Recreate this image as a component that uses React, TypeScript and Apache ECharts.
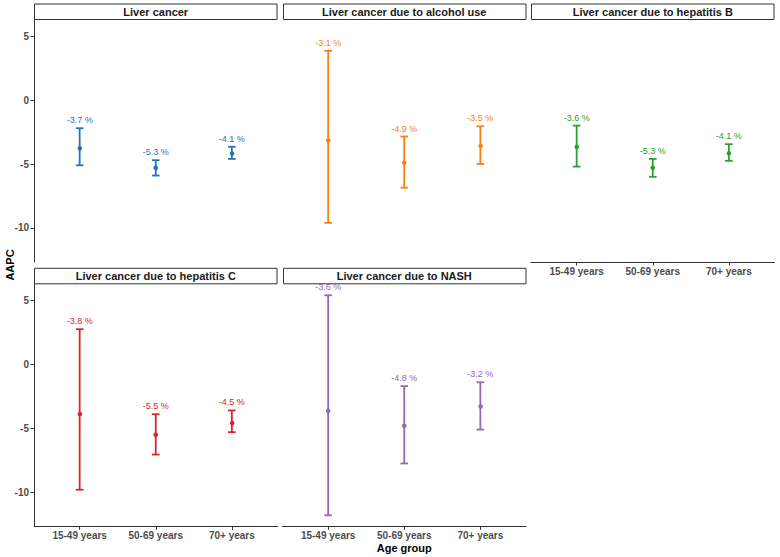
import React, { useEffect, useRef } from 'react';
import * as echarts from 'echarts';

const ageGroups = ['15-49 years', '50-69 years', '70+ years'];
const causes = [
  'Liver cancer',
  'Liver cancer due to alcohol use',
  'Liver cancer due to hepatitis B',
  'Liver cancer due to hepatitis C',
  'Liver cancer due to NASH',
];
const colors = ['#1F77B4', '#FF7F0E', '#2CA02C', '#D62728', '#9467BD'];

const liverEst = [-3.7, -5.3, -4.1];
const liverLower = [-5.1, -5.9, -4.6];
const liverUpper = [-2.2, -4.7, -3.65];

const alcoholEst = [-3.1, -4.9, -3.5];
const alcoholLower = [-9.6, -6.85, -5.0];
const alcoholUpper = [3.85, -2.85, -2.05];

const hepBEst = [-3.6, -5.3, -4.1];
const hepBLower = [-5.2, -6.0, -4.75];
const hepBUpper = [-2.0, -4.6, -3.45];

const hepCEst = [-3.8, -5.5, -4.5];
const hepCLower = [-9.8, -7.05, -5.3];
const hepCUpper = [2.75, -3.9, -3.6];

const nashEst = [-3.6, -4.8, -3.2];
const nashLower = [-11.8, -7.75, -5.1];
const nashUpper = [5.4, -1.7, -1.4];

const yTicks = [-10, -5, 0, 5];

const estList = [liverEst, alcoholEst, hepBEst, hepCEst, nashEst];
const lowerList = [liverLower, alcoholLower, hepBLower, hepCLower, nashLower];
const upperList = [liverUpper, alcoholUpper, hepBUpper, hepCUpper, nashUpper];

const FONT = '"Liberation Sans", Arial, sans-serif';

export default function App() {
  const ref = useRef<HTMLDivElement>(null);
  useEffect(() => {
    if (!ref.current) return;
    const chart = echarts.init(ref.current, undefined, { renderer: 'svg' });

    const allLo = Math.min(...lowerList.flat());
    const allHi = Math.max(...upperList.flat());
    const span = allHi - allLo;
    const yMin = allLo - span * 0.05;
    const yMax = allHi + span * 0.05;

    const lefts = [34, 282.5, 531, 34, 282.5];
    const tops = lefts.map((_, i) => (i < 3 ? 20 : 284.3));
    const W = 243.5;
    const H = 242;
    const stripH = 16.5;

    const grids = lefts.map((l, i) => ({ left: l, top: tops[i], width: W, height: H }));

    const showX = [false, false, true, true, true];
    const showY = [true, false, false, true, false];

    const xAxes = grids.map((_, i) => ({
      type: 'value',
      gridIndex: i,
      min: 0.4,
      max: 3.6,
      show: showX[i],
      splitLine: { show: false },
      axisLine: { show: showX[i], onZero: false, lineStyle: { color: '#333', width: 1 } },
      axisTick: { show: showX[i], customValues: [1, 2, 3], length: 3.5, lineStyle: { color: '#333' } },
      axisLabel: {
        show: showX[i],
        customValues: [1, 2, 3],
        formatter: (v: number) => ageGroups[Math.round(v) - 1] ?? '',
        color: '#4D4D4D',
        fontWeight: 'bold',
        fontSize: 10,
        fontFamily: FONT,
        margin: 4,
      },
      name: i === 4 ? 'Age group' : '',
      nameLocation: 'middle',
      nameGap: 16,
      nameTextStyle: { color: '#000', fontWeight: 'bold', fontSize: 11, fontFamily: FONT },
    }));

    const yAxes = grids.map((_, i) => ({
      type: 'value',
      gridIndex: i,
      min: yMin,
      max: yMax,
      show: showY[i],
      splitLine: { show: false },
      axisLine: { show: showY[i], onZero: false, lineStyle: { color: '#333', width: 1 } },
      axisTick: { show: showY[i], customValues: yTicks, length: 3.5, lineStyle: { color: '#333' } },
      axisLabel: {
        show: showY[i],
        customValues: yTicks,
        color: '#4D4D4D',
        fontWeight: 'bold',
        fontSize: 10,
        fontFamily: FONT,
        margin: 5,
      },
    }));

    const series = causes.map((c, i) => ({
      type: 'custom',
      name: c,
      xAxisIndex: i,
      yAxisIndex: i,
      clip: false,
      encode: { x: 0, y: [1, 2, 3] },
      data: ageGroups.map((_, j) => [j + 1, lowerList[i][j], upperList[i][j], estList[i][j]]),
      renderItem: (params: any, api: any) => {
        const x = api.value(0);
        const lo = api.value(1);
        const hi = api.value(2);
        const est = api.value(3);
        const pHi = api.coord([x, hi]);
        const pLo = api.coord([x, lo]);
        const pM = api.coord([x, est]);
        const half = api.size([0.1, 0])[0] / 2;
        const col = colors[i];
        const ls = { stroke: col, lineWidth: 1.8 };
        return {
          type: 'group',
          children: [
            { type: 'line', shape: { x1: pHi[0], y1: pHi[1], x2: pLo[0], y2: pLo[1] }, style: ls },
            { type: 'line', shape: { x1: pHi[0] - half, y1: pHi[1], x2: pHi[0] + half, y2: pHi[1] }, style: ls },
            { type: 'line', shape: { x1: pLo[0] - half, y1: pLo[1], x2: pLo[0] + half, y2: pLo[1] }, style: ls },
            { type: 'circle', shape: { cx: pM[0], cy: pM[1], r: 2.3 }, style: { fill: col } },
            {
              type: 'text',
              style: {
                text: estList[i][params.dataIndex].toFixed(1) + ' %',
                x: pHi[0],
                y: pHi[1] - 3.5,
                align: 'center',
                verticalAlign: 'bottom',
                fill: col,
                fontSize: 9,
                fontFamily: FONT,
              },
            },
          ],
        };
      },
    }));

    const graphics: any[] = [];
    causes.forEach((c, i) => {
      const l = lefts[i];
      const t = tops[i];
      graphics.push({
        type: 'rect',
        z: 100,
        shape: { x: Math.round(l) + 0.5, y: t - stripH + 0.5, width: W - 1, height: stripH - 1 },
        style: { fill: '#fff', stroke: '#333', lineWidth: 1 },
      });
      graphics.push({
        type: 'text',
        z: 101,
        style: {
          text: c,
          x: l + W / 2,
          y: t - stripH / 2,
          align: 'center',
          verticalAlign: 'middle',
          fill: '#1a1a1a',
          fontSize: 11,
          fontWeight: 'bold',
          fontFamily: FONT,
        },
      });
    });
    graphics.push({
      type: 'text',
      z: 101,
      x: 10,
      y: 265,
      rotation: Math.PI / 2,
      style: {
        text: 'AAPC',
        x: 0,
        y: 0,
        align: 'center',
        verticalAlign: 'middle',
        fill: '#000',
        fontSize: 11,
        fontWeight: 'bold',
        fontFamily: FONT,
      },
    });

    chart.setOption({
      animation: false,
      backgroundColor: '#fff',
      grid: grids,
      xAxis: xAxes,
      yAxis: yAxes,
      series,
      graphic: graphics,
    });
    return () => chart.dispose();
  }, []);
  return (
    <div
      ref={ref}
      style={{ position: 'absolute', left: 0, top: 0, width: 780, height: 557 }}
    />
  );
}
